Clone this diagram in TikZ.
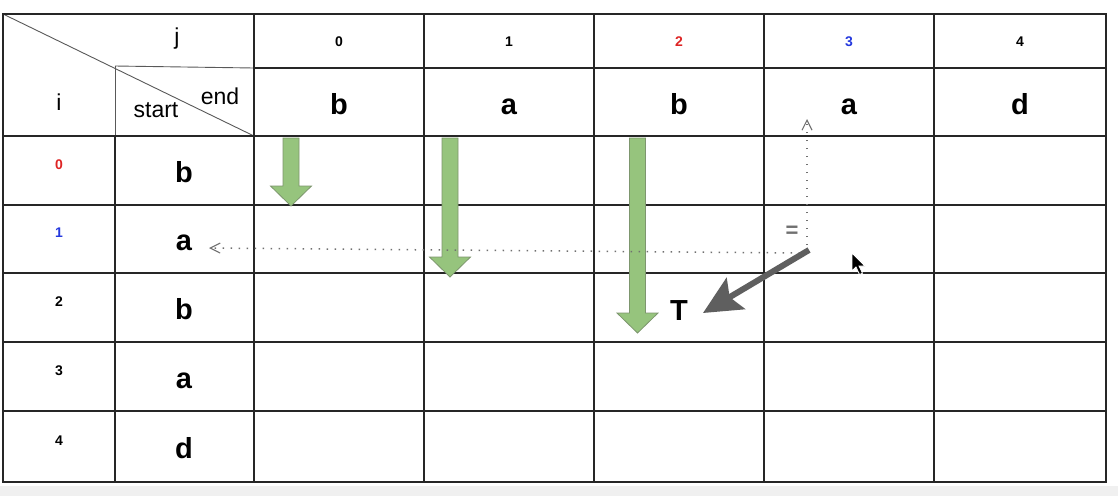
\documentclass[tikz,border=0pt]{standalone}
\usepackage{fontspec}
\setmainfont{Liberation Sans}
\usetikzlibrary{arrows.meta}
\definecolor{arrowgreen}{RGB}{150,196,125}
\definecolor{arrowgreenrim}{RGB}{125,150,110}
\definecolor{hintgray}{RGB}{112,112,112}
\definecolor{pathgray}{RGB}{95,95,95}
\definecolor{idxred}{RGB}{222,36,36}
\definecolor{idxblue}{RGB}{36,56,222}
\tikzset{
	gridline/.style={line width=1.3pt, black!85},
	headline/.style={line width=0.9pt, black!65},
	idx/.style={anchor=base, inner sep=0pt, font=\fontsize{14}{16}\selectfont\bfseries},
	letter/.style={anchor=base, inner sep=0pt, font=\fontsize{29}{32}\selectfont\bfseries},
	lbl/.style={anchor=base, inner sep=0pt, font=\fontsize{23}{25}\selectfont},
	downarrow/.style={fill=arrowgreen, draw=arrowgreenrim, line width=0.8pt},
	hint/.style={hintgray, line width=1.5pt, dash pattern=on 1.5pt off 6.5pt, -{Straight Barb[length=10pt,width=10pt,line width=1.1pt]}},
}
\begin{document}
\begin{tikzpicture}[x=1pt,y=-1pt]
	\fill[white] (0,0) rectangle (1118,496);
	\fill[black!6] (0,486) rectangle (1118,496);
	\useasboundingbox (0,0) rectangle (1118,496);
	% table
	\draw[headline] (3,14) -- (254,136);
	\draw[headline] (115,66) -- (254,68);
	\draw[headline] (115,66) -- (115,136);
	\foreach \x in {254,424,594,764,934}{
		\draw[gridline] (\x,14) -- (\x,482);
	}
	\foreach \y in {136,205,273,342,411}{
		\draw[gridline] (3,\y) -- (1106,\y);
	}
	\draw[gridline] (254,68) -- (1106,68);
	\draw[gridline] (115,136) -- (115,482);
	\draw[gridline] (3,14) rectangle (1106,482);
	% header labels
	\node[lbl] (jlabel) at (177,44) {j};
	\node[lbl] (ilabel) at (59,110) {i};
	\node[lbl] (startlabel) at (156,117) {start};
	\node[lbl] (endlabel) at (220,104) {end};
	\foreach \x/\ch/\cl [count=\n from 0] in {339/b/black,509/a/black,679/b/idxred,849/a/idxblue,1020/d/black}{
		\node[idx,text=\cl] (j\n) at (\x,46) {\n};
		\node[letter] (e\n) at (\x,114) {\ch};
	}
	\foreach \y/\ch/\cl [count=\n from 0] in {170.5/b/idxred,239/a/idxblue,307.5/b/black,376.5/a/black,446.5/d/black}{
		\node[idx,text=\cl] (i\n) at (59,\y-1.5) {\n};
		\node[letter] (s\n) at (184,\y+11.5) {\ch};
	}
	% green arrows
	\foreach \cx/\ytip in {291/206, 450/277, 637.5/333}{
		\filldraw[downarrow] (\cx-8,138) -- (\cx+8,138) -- (\cx+8,\ytip-20) -- (\cx+20.5,\ytip-20)
			-- (\cx,\ytip) -- (\cx-20.5,\ytip-20) -- (\cx-8,\ytip-20) -- cycle;
	}
	% hints
	\coordinate (cornerup) at (807,245);
	\coordinate (topend) at (807,119);
	\coordinate (cornerleft) at (800,253);
	\coordinate (leftend) at (209,248);
	\coordinate (tail) at (809,250);
	\coordinate (tip) at (703,313);
	\draw[hint] (cornerup) -- (topend);
	\draw[hint] (cornerleft) -- (leftend);
	\node[font=\fontsize{22}{24}\selectfont\bfseries, text=hintgray, inner sep=0pt] (eq) at (792,232) {=};
	\draw[pathgray, line width=6pt, -{Stealth[length=38pt,width=36pt,inset=7pt]}] (tail) -- (tip);
	\node[letter] (T) at (679,320) {T};
	% cursor
	\filldraw[fill=black, draw=white, line width=0.8pt] (852,253) -- ++(0,18) -- ++(4,-4) -- ++(3.5,7.5)
		-- ++(3,-1.3) -- ++(-3.5,-7.2) -- ++(6,0) -- cycle;
\end{tikzpicture}
\end{document}
